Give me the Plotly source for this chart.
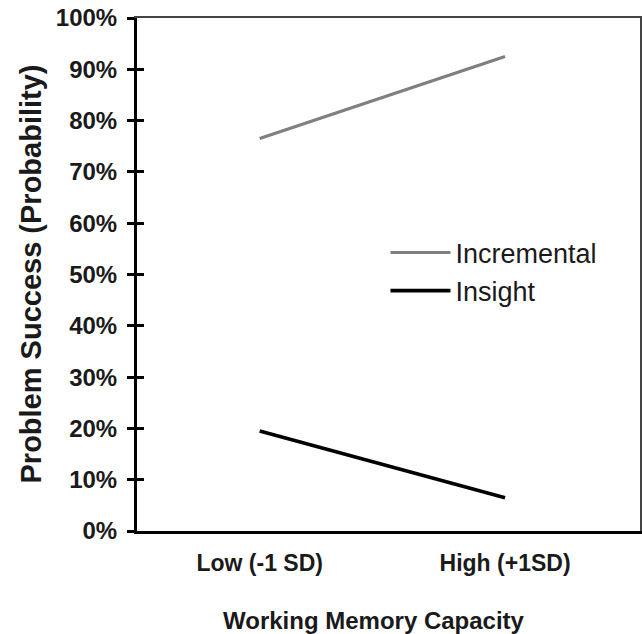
import plotly.graph_objects as go

categories = ["Low (-1 SD)", "High (+1SD)"]
incremental = [0.765, 0.925]
insight = [0.195, 0.065]
y_ticks = [0, 0.1, 0.2, 0.3, 0.4, 0.5, 0.6, 0.7, 0.8, 0.9, 1.0]
y_tick_labels = ["0%", "10%", "20%", "30%", "40%", "50%", "60%", "70%", "80%", "90%", "100%"]

xpos = list(range(len(categories)))
FONT = "Liberation Sans, Arial, sans-serif"
TXT = "#1a1a1a"

fig = go.Figure()
fig.add_trace(go.Scatter(x=xpos, y=incremental, mode="lines", name="Incremental",
                         line=dict(color="#7f7f7f", width=3.2)))
fig.add_trace(go.Scatter(x=xpos, y=insight, mode="lines", name="Insight",
                         line=dict(color="#000000", width=3.6)))
# invisible helper traces for the inner-tick axis and the thin frame axes
fig.add_trace(go.Scatter(x=[xpos[0]], y=[0], yaxis="y2", mode="markers",
                         marker=dict(opacity=0), showlegend=False, hoverinfo="skip"))
fig.add_trace(go.Scatter(x=[xpos[0]], y=[0], xaxis="x2", yaxis="y3", mode="markers",
                         marker=dict(opacity=0), showlegend=False, hoverinfo="skip"))

fig.update_layout(
    width=642, height=634,
    margin=dict(l=137, r=2, t=18, b=103),
    paper_bgcolor="white", plot_bgcolor="white",
    font=dict(family=FONT, color=TXT),
    showlegend=True,
    legend=dict(x=0.494, y=0.505, xanchor="left", yanchor="middle",
                font=dict(size=27, family=FONT, color=TXT),
                bgcolor="rgba(0,0,0,0)", tracegroupgap=0, itemwidth=60),
    xaxis=dict(range=[-0.5, 1.55], tickvals=xpos, ticktext=categories,
               showgrid=False, zeroline=False, showline=True, linecolor="black", linewidth=3,
               ticks="", ticklabelstandoff=9, automargin=False, ticklabeloverflow="allow",
               tickfont=dict(size=23, family=FONT, weight="bold", color=TXT)),
    xaxis2=dict(range=[-0.5, 1.55], overlaying="x", side="top", showline=True,
                linecolor="#444444", linewidth=2, showticklabels=False, ticks="",
                showgrid=False, zeroline=False, automargin=False),
    yaxis=dict(range=[0, 1.0], tickvals=y_ticks, ticktext=y_tick_labels,
               showgrid=False, zeroline=False, showline=True, linecolor="black", linewidth=3,
               ticks="outside", ticklen=7, tickwidth=3, tickcolor="black",
               ticklabelstandoff=5, automargin=False, ticklabeloverflow="allow",
               tickfont=dict(size=24, family=FONT, weight="bold", color=TXT)),
    yaxis2=dict(range=[0, 1.0], overlaying="y", side="left", tickvals=y_ticks,
                showticklabels=False, ticks="inside", ticklen=7, tickwidth=3, tickcolor="black",
                showgrid=False, zeroline=False, showline=False, automargin=False),
    yaxis3=dict(range=[0, 1.0], overlaying="y", side="right", showline=True,
                linecolor="#444444", linewidth=2, showticklabels=False, ticks="",
                showgrid=False, zeroline=False, automargin=False),
    annotations=[
        dict(text="<b>Working Memory Capacity</b>", xref="paper", yref="paper",
             x=(374 - 137) / 503, y=-(620 - 531) / 513, xanchor="center", yanchor="middle",
             showarrow=False, font=dict(size=24, family=FONT, color=TXT)),
        dict(text="<b>Problem Success (Probability)</b>", xref="paper", yref="paper",
             x=-(137 - 30) / 503, y=0.5, xanchor="center", yanchor="middle", textangle=-90,
             showarrow=False, font=dict(size=29, family=FONT, color=TXT)),
    ],
)

# remove the default page margin so the figure fills the window exactly
fig.write_html("out.html",
               config={"displayModeBar": False},
               post_script="document.body.style.margin='0';document.body.style.overflow='hidden';")
